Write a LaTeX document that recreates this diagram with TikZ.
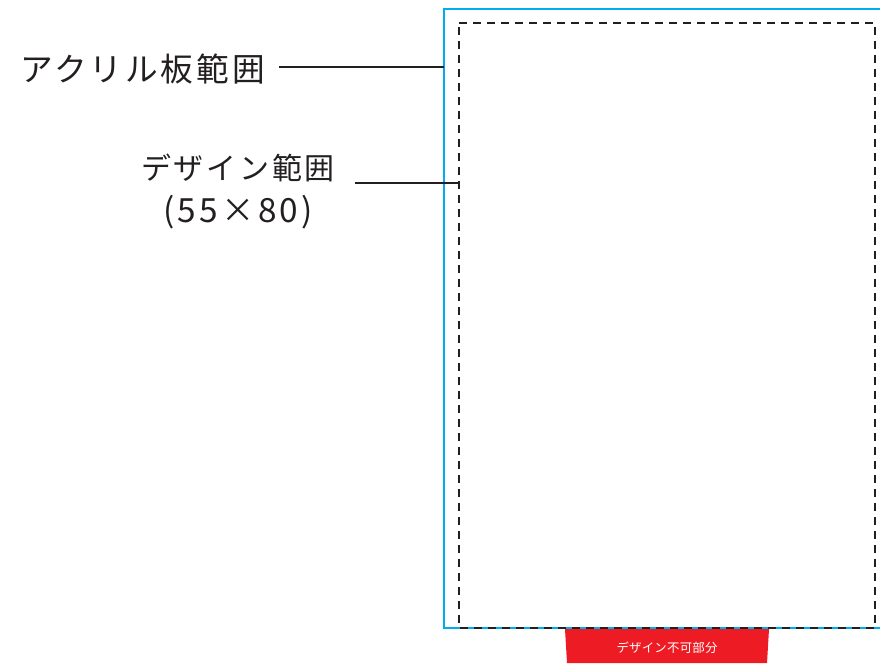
\documentclass[tikz,border=0pt]{standalone}
\usepackage{fontspec}
\newfontfamily\jpa[LetterSpace=9]{Noto Sans CJK JP}
\newfontfamily\jpb[LetterSpace=9]{Noto Sans CJK JP}
\newfontfamily\jpc[LetterSpace=10]{Noto Sans CJK JP}
\newfontfamily\jpplain[LetterSpace=2]{Noto Sans CJK JP}
\definecolor{txt}{HTML}{231F20}
\definecolor{acryl}{HTML}{00AEEF}
\definecolor{tabred}{HTML}{ED1C24}
\begin{document}
\begin{tikzpicture}[x=0.75pt,y=-0.75pt,
  label/.style={inner sep=0pt, text=txt},
  leader/.style={draw=txt, line width=1.8pt},
  dashbox/.style={draw=txt, line width=1.4pt, dash pattern=on 6pt off 4.5pt}]
\useasboundingbox (0,0) rectangle (880,663);
% acrylic outline (extends beyond right edge)
\begin{scope}
\clip (0,0) rectangle (880,663);
\draw[acryl, line width=2pt] (444,9) rectangle (900,628);
\end{scope}
% design area
\draw[dashbox] (459,23) -- (875,23) -- (875,628) -- (459,628) -- cycle;
\coordinate (acL) at (444,67);
\coordinate (dsL) at (459,183);
% labels
\node[label, font=\jpa\fontsize{24.5pt}{30pt}\selectfont, anchor=east] (acryltext) at (265,69) {アクリル板範囲};
\node[label, font=\jpb\fontsize{22.5pt}{28pt}\selectfont, anchor=center] (designtext) at (238,168) {デザイン範囲};
\node[label, font=\jpc\fontsize{25pt}{30pt}\selectfont, anchor=center] (sizetext) at (238,212) {(55×80)};
\coordinate (acS) at (279,67);
\coordinate (dsS) at (355,183);
\draw[leader] (acS) -- (acL);
\draw[leader] (dsS) -- (dsL);
% red tab
\fill[tabred] (565,629) -- (769,629) -- (767,663) -- (567,663) -- cycle;
\node[inner sep=0pt, text=white, font=\jpplain\fontsize{9.3pt}{11pt}\selectfont] (tabtext) at (667,648) {デザイン不可部分};
\end{tikzpicture}
\end{document}
